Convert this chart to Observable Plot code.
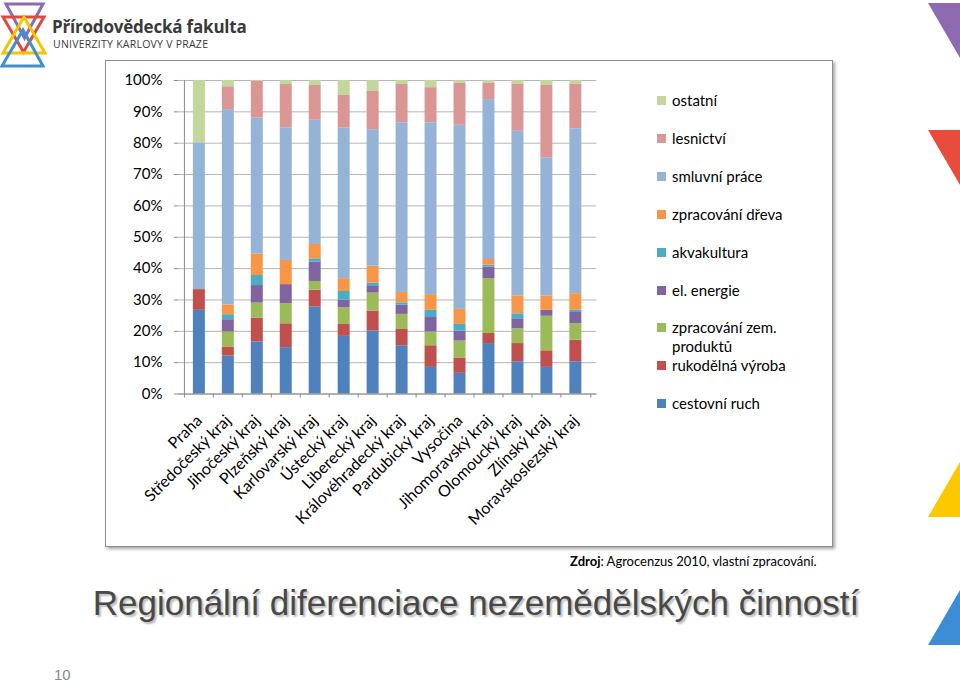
<!DOCTYPE html>
<html>
<head>
<meta charset="utf-8">
<script src="https://cdn.jsdelivr.net/npm/d3@7"></script>
<script src="https://cdn.jsdelivr.net/npm/@observablehq/plot@0.6"></script>
<style>
  html, body { margin: 0; padding: 0; background: #fff; }
  #page { position: relative; width: 960px; height: 683px; overflow: hidden; background: #fff; font-family: Lato, "Open Sans", sans-serif; }
  .abs { position: absolute; }
  #frame { left: 105px; top: 60px; width: 726px; height: 485px; border: 1px solid #8f8f8f; box-shadow: 2px 2px 3px rgba(0,0,0,0.35); background: #fff; }
  #chart { position: absolute; left: -1px; top: -1px; }
  #legend { left: 0; top: 0; }
  .lg { position: absolute; font-family: Lato, sans-serif; font-size: 15px; color: #000; line-height: 19px; white-space: nowrap; }
  .sw { position: absolute; left: 0; top: 5px; width: 9px; height: 9px; }
  .lt { position: absolute; left: 15px; top: 0; }
  #source { left: 570px; top: 553px; font-family: Lato, sans-serif; font-size: 13px; color: #000; white-space: nowrap; }
  #title { left: 0; width: 952px; top: 583px; text-align: center; font-family: "Liberation Sans", Arial, sans-serif; font-size: 35px; color: #484848; text-shadow: 2px 2px 2px rgba(0,0,0,0.28); white-space: nowrap; }
  #pnum { left: 54px; top: 666px; font-family: "Liberation Sans", Arial, sans-serif; font-size: 15px; color: #8a8a8a; }
  #logotext1 { left: 52px; top: 17px; height: 19px; line-height: 19px; font-family: "Open Sans", sans-serif; font-weight: 700; font-size: 17px; color: #3a3a3a; white-space: nowrap; letter-spacing: -0.2px; }
  #logotext2 { left: 53px; top: 38px; height: 12px; line-height: 12px; font-family: "Open Sans", sans-serif; font-size: 10.5px; color: #3a3a3a; white-space: nowrap; letter-spacing: 0.25px; }
</style>
</head>
<body>
<div id="page">
  <svg class="abs" style="left:0;top:0" width="60" height="70">
    <polygon points="6,4 43,4 24.5,38" fill="none" stroke="#8b6bb1" stroke-width="3"/>
    <polygon points="3,17 44,17 23.5,52" fill="none" stroke="#e3493b" stroke-width="3"/>
    <polygon points="24,17 45,53 3,53" fill="none" stroke="#f5c400" stroke-width="3"/>
    <polygon points="23,30 43,66 2,66" fill="none" stroke="#3f8fd2" stroke-width="3"/>
  </svg>
  <div id="logotext1" class="abs">Přírodovědecká fakulta</div>
  <div id="logotext2" class="abs">UNIVERZITY KARLOVY V PRAZE</div>
  <svg class="abs" style="left:0;top:0" width="960" height="683" pointer-events="none">
    <polygon points="928,3 960,3 960,58" fill="#8e6bb0"/>
    <polygon points="928,130 960,130 960,185" fill="#e84c3d"/>
    <polygon points="960,462 960,517 928,517" fill="#fcc800"/>
    <polygon points="960,590 960,645 928,645" fill="#3b8ed6"/>
  </svg>
  <div id="frame" class="abs"><div id="chart"></div><div id="legend" class="abs"></div></div>
  <div id="source" class="abs"><b>Zdroj</b>: Agrocenzus 2010, vlastní zpracování.</div>
  <div id="title" class="abs">Regionální diferenciace nezemědělských činností</div>
  <div id="pnum" class="abs">10</div>
</div>
<script>
// ---- data ----
const regions = ["Praha", "Středočeský kraj", "Jihočeský kraj", "Plzeňský kraj", "Karlovarský kraj", "Ústecký kraj", "Liberecký kraj", "Královéhradecký kraj", "Pardubický kraj", "Vysočina", "Jihomoravský kraj", "Olomoucký kraj", "Zlínský kraj", "Moravskoslezský kraj"];
// stacking order, bottom to top
const categories = ["cestovní ruch", "rukodělná výroba", "zpracování zem. produktů", "el. energie", "akvakultura", "zpracování dřeva", "smluvní práce", "lesnictví", "ostatní"];
const colors = ["#4f81bd", "#c0504d", "#9bbb59", "#8064a2", "#4bacc6", "#f79646", "#95b3d7", "#d99694", "#c3d69b"];
const yTicks = [0, 10, 20, 30, 40, 50, 60, 70, 80, 90, 100];

const cestovniRuch      = [26.7, 12.1, 16.6, 14.8, 27.8, 18.4, 20.1, 15.4, 8.5, 6.6, 16.1, 10.3, 8.5, 10.3];
const rukodelnaVyroba   = [6.6, 2.9, 7.6, 7.6, 5.3, 3.8, 6.4, 5.2, 6.9, 4.9, 3.2, 5.8, 5.3, 6.9];
const zpracovaniZem     = [0, 4.8, 4.8, 6.4, 2.8, 5.3, 5.7, 4.8, 4.4, 5.4, 17.5, 4.7, 11.0, 5.3];
const elEnergie         = [0, 3.9, 5.6, 6.1, 6.2, 2.4, 2.1, 2.9, 4.6, 3.2, 3.7, 3.2, 1.9, 3.5];
const akvakultura       = [0, 1.6, 3.2, 0, 1.0, 2.8, 1.1, 0.8, 2.3, 2.1, 0.6, 1.6, 0, 0.7];
const zpracovaniDreva   = [0, 3.1, 6.9, 7.7, 4.6, 4.1, 5.4, 3.3, 5.0, 4.8, 1.8, 5.7, 4.6, 5.3];
const smluvniPrace      = [46.8, 62.3, 43.3, 42.3, 39.6, 48.0, 43.5, 54.1, 54.8, 58.7, 51.0, 52.5, 44.0, 52.6];
const lesnictvi         = [0, 7.3, 11.7, 13.8, 11.1, 10.4, 12.2, 12.2, 11.2, 13.5, 5.3, 15.1, 23.1, 14.3];
const ostatni           = [19.9, 2.0, 0.3, 1.3, 1.6, 4.8, 3.5, 1.3, 2.3, 0.8, 0.8, 1.1, 1.6, 1.1];

const series = [cestovniRuch, rukodelnaVyroba, zpracovaniZem, elEnergie, akvakultura, zpracovaniDreva, smluvniPrace, lesnictvi, ostatni];

const data = [];
categories.forEach((c, ci) => regions.forEach((r, ri) => data.push({region: r, category: c, value: series[ci][ri]})));

// ---- layout ----
const W = 728, H = 487, mL = 73, mR = 236, mT = 20, mB = 153;
const step = (W - mL - mR) / regions.length;
const lastRegion = regions[regions.length - 1];

const chart = Plot.plot({
  width: W, height: H,
  marginLeft: mL, marginRight: mR, marginTop: mT, marginBottom: mB,
  style: {fontFamily: "Lato, sans-serif", fontSize: "15px", color: "#000", background: "transparent", overflow: "visible"},
  x: {domain: regions, paddingInner: 0.58, paddingOuter: 0.29, label: null},
  y: {domain: [0, 100], label: null},
  color: {domain: categories, range: colors},
  marks: [
    Plot.gridY(yTicks, {stroke: "#b5b5b5", strokeOpacity: 1}),
    Plot.barY(data, {x: "region", y: "value", fill: "category", order: categories}),
    Plot.axisY(yTicks, {tickFormat: d => d + "%", tickSize: 4, tickPadding: 12, stroke: "#8a8a8a", fill: "#000", fontSize: 15}),
    Plot.ruleY([0], {stroke: "#8a8a8a"}),
    Plot.ruleX(regions, {x: d => d, y1: 0, y2: 100, stroke: "#8a8a8a", dx: -step / 2, filter: d => d === regions[0]}),
    Plot.ruleX(regions, {x: d => d, y1: 0, y2: -1.3, stroke: "#8a8a8a", dx: -step / 2}),
    Plot.ruleX([lastRegion], {x: d => d, y1: 0, y2: -1.3, stroke: "#8a8a8a", dx: step / 2}),
    Plot.axisX({tickSize: 0, tickPadding: 24, tickRotate: -45, fontSize: 16, fill: "#000", dx: 0})
  ]
});
document.getElementById("chart").appendChild(chart);

// ---- legend (HTML, from categories + colors) ----
const legend = document.getElementById("legend");
const legendOrder = categories.slice().reverse();
const legendLabels = {"zpracování zem. produktů": "zpracování zem.<br>produktů"};
legendOrder.forEach((c, i) => {
  const el = document.createElement("div");
  el.className = "lg";
  el.style.left = "551px";
  el.style.top = (30 + i * 37.9) + "px";
  const col = colors[categories.indexOf(c)];
  el.innerHTML = `<div class="sw" style="background:${col}"></div><div class="lt">${legendLabels[c] || c}</div>`;
  legend.appendChild(el);
});
</script>
</body>
</html>
